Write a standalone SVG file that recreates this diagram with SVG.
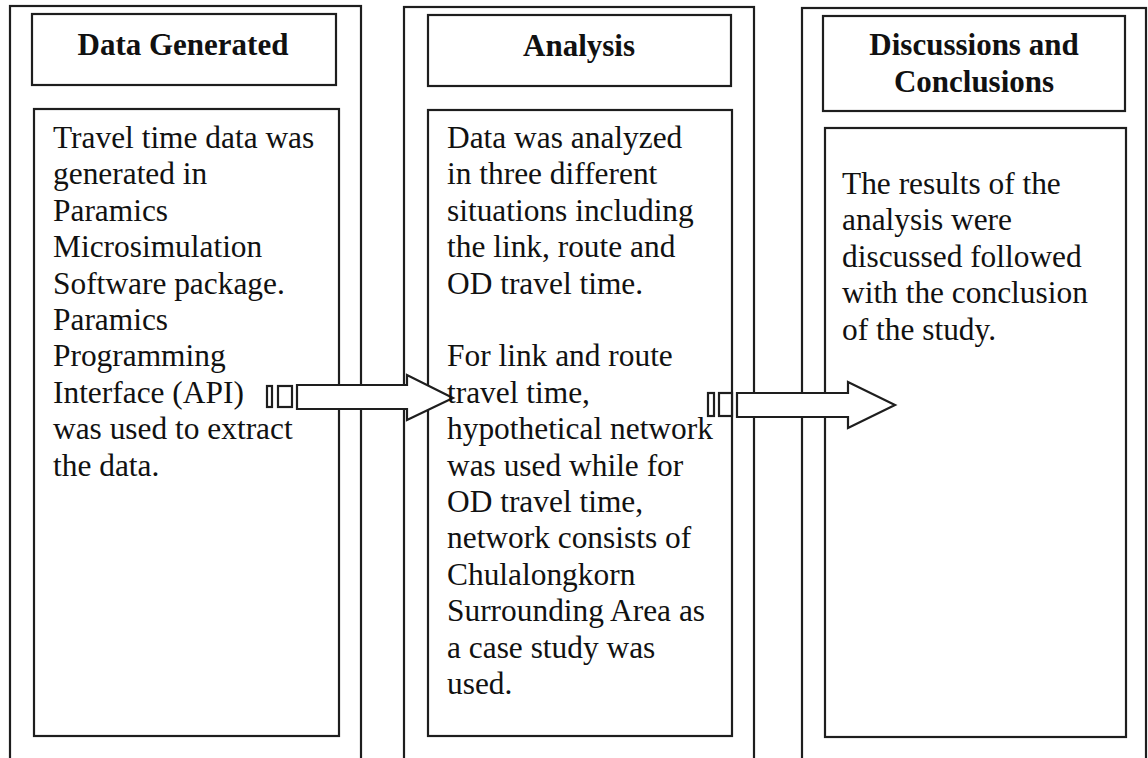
<svg xmlns="http://www.w3.org/2000/svg" width="1148" height="758" viewBox="0 0 1148 758">
<style>
.box{fill:none;stroke:#1e1e1e;stroke-width:2.2}
.arrow{fill:#fff;stroke:#1e1e1e;stroke-width:2.2;stroke-linejoin:miter}
.title{font-family:"Liberation Serif","Times New Roman",serif;font-size:31px;font-weight:bold;fill:#111;text-anchor:middle}
.body{font-family:"Liberation Serif","Times New Roman",serif;font-size:31.4px;fill:#111}
</style>
<rect width="1148" height="758" fill="#fff"/>
<g id="data-generated">
<rect class="box" x="10" y="6" width="351" height="770"/>
<rect class="box" x="32" y="14" width="304" height="71"/>
<rect class="box" x="34" y="109" width="305" height="627"/>
</g>
<g id="analysis">
<rect class="box" x="404" y="7" width="350" height="770"/>
<rect class="box" x="428" y="15" width="303" height="71"/>
<rect class="box" x="428" y="110" width="304" height="626"/>
</g>
<g id="discussions-and-conclusions">
<rect class="box" x="802" y="8" width="344" height="770"/>
<rect class="box" x="823" y="16" width="302" height="95"/>
<rect class="box" x="825" y="128" width="301" height="609"/>
</g>
<g id="connectors">
<g id="arrow-1">
<rect class="arrow" x="267" y="386" width="5" height="21"/>
<rect class="arrow" x="278" y="386" width="14" height="21"/>
<polygon class="arrow" points="297,385 407,385 407,375 453,398 407,420 407,409 297,409"/>
</g>
<g id="arrow-2">
<rect class="arrow" x="708" y="393" width="6" height="23"/>
<rect class="arrow" x="719" y="393" width="13" height="23"/>
<polygon class="arrow" points="737,393 848,393 848,382 895,405 848,428 848,417 737,417"/>
</g>
</g>
<g id="data-generated-text">
<text class="title" x="183" y="55">Data Generated</text>
<text class="body">
<tspan x="53" y="148">Travel time data was</tspan>
<tspan x="53" y="184.4">generated in</tspan>
<tspan x="53" y="220.8">Paramics</tspan>
<tspan x="53" y="257.2">Microsimulation</tspan>
<tspan x="53" y="293.6">Software package.</tspan>
<tspan x="53" y="330">Paramics</tspan>
<tspan x="53" y="366.4">Programming</tspan>
<tspan x="53" y="402.8">Interface (API)</tspan>
<tspan x="53" y="439.2">was used to extract</tspan>
<tspan x="53" y="475.6">the data.</tspan>
</text>
</g>
<g id="analysis-text">
<text class="title" x="579" y="56">Analysis</text>
<text class="body">
<tspan x="447" y="148">Data was analyzed</tspan>
<tspan x="447" y="184.4">in three different</tspan>
<tspan x="447" y="220.8">situations including</tspan>
<tspan x="447" y="257.2">the link, route and</tspan>
<tspan x="447" y="293.6">OD travel time.</tspan>
<tspan x="447" y="366.4">For link and route</tspan>
<tspan x="447" y="402.8">travel time,</tspan>
<tspan x="447" y="439.2">hypothetical network</tspan>
<tspan x="447" y="475.6">was used while for</tspan>
<tspan x="447" y="512">OD travel time,</tspan>
<tspan x="447" y="548.4">network consists of</tspan>
<tspan x="447" y="584.8">Chulalongkorn</tspan>
<tspan x="447" y="621.2">Surrounding Area as</tspan>
<tspan x="447" y="657.6">a case study was</tspan>
<tspan x="447" y="694">used.</tspan>
</text>
</g>
<g id="discussions-and-conclusions-text">
<text class="title" x="974" y="55">Discussions and</text>
<text class="title" x="974" y="92">Conclusions</text>
<text class="body">
<tspan x="842" y="194">The results of the</tspan>
<tspan x="842" y="230.4">analysis were</tspan>
<tspan x="842" y="266.8">discussed followed</tspan>
<tspan x="842" y="303.2">with the conclusion</tspan>
<tspan x="842" y="339.6">of the study.</tspan>
</text>
</g>
</svg>
